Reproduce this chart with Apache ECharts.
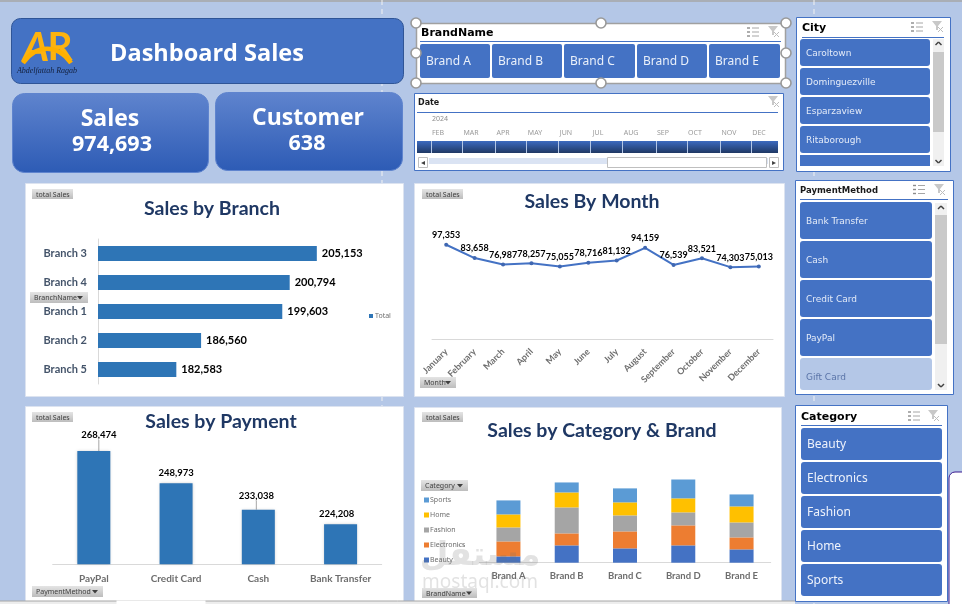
<!DOCTYPE html>
<html>
<head>
<meta charset="utf-8">
<style>html,body{margin:0;padding:0;background:#B4C7E7;overflow:hidden}#main{width:962px;height:604px}</style>
<script src="https://cdn.jsdelivr.net/npm/echarts@6/dist/echarts.min.js"></script>
</head>
<body>
<div id="main"></div>
<script>
// Sales figures
const branchNames = ['Branch 3', 'Branch 4', 'Branch 1', 'Branch 2', 'Branch 5'];
const branchTotals = [205153, 200794, 199603, 186560, 182583];

const monthNames = ['January', 'February', 'March', 'April', 'May', 'June', 'July', 'August', 'September', 'October', 'November', 'December'];
const monthTotals = [97353, 83658, 76987, 78257, 75055, 78716, 81132, 94159, 76539, 83521, 74303, 75013];

const paymentNames = ['PayPal', 'Credit Card', 'Cash', 'Bank Transfer'];
const paymentTotals = [268474, 248973, 233038, 224208];

const brandNames = ['Brand A', 'Brand B', 'Brand C', 'Brand D', 'Brand E'];
const beautySales = [16700, 45800, 37900, 45800, 35200];
const electronicsSales = [39600, 31700, 44900, 52900, 31700];
const fashionSales = [37000, 68700, 42300, 34400, 39600];
const homeSales = [34400, 39600, 34400, 37000, 42300];
const sportsSales = [37000, 26400, 37000, 50200, 31700];

const cityItems = ['Caroltown', 'Dominguezville', 'Esparzaview', 'Ritaborough', 'West Sarah'];
const paymentItems = ['Bank Transfer', 'Cash', 'Credit Card', 'PayPal', 'Gift Card'];
const categoryItems = ['Beauty', 'Electronics', 'Fashion', 'Home', 'Sports'];
const timelineMonths = ['FEB', 'MAR', 'APR', 'MAY', 'JUN', 'JUL', 'AUG', 'SEP', 'OCT', 'NOV', 'DEC'];

const kpiSales = '974,693';
const kpiCustomers = '638';

const BLUE = '#4472C4';
const LATO = 'Lato, "Open Sans", sans-serif';
const els = [];

function rect(x, y, w, h, fill, opts) {
  opts = opts || {};
  els.push({
    type: 'rect', silent: true, z: opts.z === undefined ? 1 : opts.z,
    shape: { x, y, width: w, height: h, r: opts.r || 0 },
    style: { fill, stroke: opts.stroke || null, lineWidth: opts.lw === undefined ? 1 : opts.lw, shadowBlur: opts.shadowBlur || 0, shadowColor: opts.shadowColor }
  });
}
function text(str, x, y, font, fill, opts) {
  opts = opts || {};
  els.push({
    type: 'text', silent: true, z: opts.z === undefined ? 5 : opts.z, x, y: y + 2,
    style: { text: str, font, fill, align: opts.align || 'left', verticalAlign: 'middle' }
  });
}
function line(x1, y1, x2, y2, stroke, lw, opts) {
  opts = opts || {};
  els.push({
    type: 'line', silent: true, z: opts.z === undefined ? 5 : opts.z,
    shape: { x1, y1, x2, y2 },
    style: { stroke, lineWidth: lw || 1, lineDash: opts.dash || null }
  });
}
function vGrad(a, b) {
  return { type: 'linear', x: 0, y: 0, x2: 0, y2: 1, colorStops: [{ offset: 0, color: a }, { offset: 1, color: b }] };
}

// Filter-pane header glyphs: multi-select list and clear-filter funnel
function multiSelectIcon(x, y) {
  for (let i = 0; i < 3; i++) {
    line(x, y - 4 + i * 4, x + 3, y - 4 + i * 4, '#8C8C8C', 1.4);
    line(x + 5, y - 4 + i * 4, x + 12, y - 4 + i * 4, '#A6A6A6', 1);
  }
}
function clearFilterIcon(x, y) {
  els.push({
    type: 'polygon', silent: true, z: 5,
    shape: { points: [[x, y - 5], [x + 10, y - 5], [x + 6, y], [x + 6, y + 4], [x + 4, y + 4], [x + 4, y]] },
    style: { fill: '#C8C8C8' }
  });
  line(x + 6, y + 1, x + 11, y + 6, '#BDBDBD', 1);
  line(x + 11, y + 1, x + 6, y + 6, '#BDBDBD', 1);
}
function scrollBar(x, y, w, h, thumbTop, thumbH) {
  rect(x, y, w, h, '#F0F0F0', { z: 3 });
  rect(x, thumbTop, w, thumbH, '#C9C9C9', { z: 4 });
  const cx = x + w / 2;
  line(cx - 3, y + 6, cx, y + 3, '#404040', 1.5);
  line(cx, y + 3, cx + 3, y + 6, '#404040', 1.5);
  line(cx - 3, y + h - 6, cx, y + h - 3, '#404040', 1.5);
  line(cx, y + h - 3, cx + 3, y + h - 6, '#404040', 1.5);
}
function pivotButton(label, x, y, w, h, arrow) {
  rect(x, y, w, h, vGrad('#E4E4E4', '#BDBDBD'), { z: 20 });
  text(label, x + 4, y + h / 2 - 1.5, '7px "Noto Sans", sans-serif', '#404040', { z: 21 });
  if (arrow) {
    els.push({
      type: 'polygon', silent: true, z: 21,
      shape: { points: [[x + w - 11, y + h / 2 - 1.5], [x + w - 5, y + h / 2 - 1.5], [x + w - 8, y + h / 2 + 2]] },
      style: { fill: '#404040' }
    });
  }
}

// Sheet chrome
line(0, 1, 962, 1, '#A6A6A6', 1.5, { z: 0 });
line(382, 0, 382, 604, '#F2F2F2', 1, { z: 0, dash: [5, 4] });
line(814, 0, 814, 604, '#F2F2F2', 1, { z: 0, dash: [5, 4] });

// Title banner with logo
rect(11.5, 18.5, 392, 65, BLUE, { r: 9, stroke: '#2F5597' });
text('Dashboard Sales', 207, 52, 'bold 23.5px "Open Sans", sans-serif', '#FFFFFF', { align: 'center' });
text('A', 36, 46, 'italic bold 41px ' + LATO, '#FDB30F', { align: 'center' });
text('R', 60, 45, 'bold 39px ' + LATO, '#FDB30F', { align: 'center' });
els.push({
  type: 'bezierCurve', silent: true, z: 6,
  shape: { x1: 23, y1: 63, cpx1: 36, cpy1: 44, x2: 71, y2: 63, cpx2: 58, cpy2: 44 },
  style: { stroke: '#FFB000', lineWidth: 4.5, fill: null }
});
text('Abdelfattah Ragab', 47, 69, 'italic 8px "Liberation Serif", serif', '#14213D', { align: 'center' });

// KPI cards
const cardFill = vGrad('#5F84CE', '#2D5BB5');
rect(12.5, 93.5, 196, 79, cardFill, { r: 12, stroke: '#5F84CE' });
rect(215.5, 92.5, 187, 78, cardFill, { r: 12, stroke: '#5F84CE' });
text('Sales', 110, 117, 'bold 23px "Open Sans", sans-serif', '#FFFFFF', { align: 'center' });
text(kpiSales, 112, 143, 'bold 21.5px "Open Sans", sans-serif', '#FFFFFF', { align: 'center' });
text('Customer', 308, 116, 'bold 23px "Open Sans", sans-serif', '#FFFFFF', { align: 'center' });
text(kpiCustomers, 307, 142, 'bold 21.5px "Open Sans", sans-serif', '#FFFFFF', { align: 'center' });

// Brand filter, shown selected with resize handles
rect(416.5, 23.5, 369, 60, '#FFFFFF', { stroke: '#A0A0A0', lw: 1.5 });
text('BrandName', 421, 31, 'bold 11px "DejaVu Sans", sans-serif', '#000000');
line(420, 41.5, 781, 41.5, BLUE, 1);
multiSelectIcon(747, 32);
clearFilterIcon(768, 31);
[[420, 70], [492, 70], [564, 71], [637, 70], [709, 71]].forEach(function (b, i) {
  rect(b[0], 44, b[1], 34, BLUE, { r: 2 });
  text(brandNames[i], b[0] + 6, 60, '12px "Noto Sans", sans-serif', '#EAF0FA');
});
[[416, 23], [601, 23], [786, 23], [416, 53], [786, 53], [416, 83], [601, 83], [786, 83]].forEach(function (p) {
  els.push({
    type: 'circle', silent: true, z: 8,
    shape: { cx: p[0], cy: p[1], r: 5 },
    style: { fill: '#FFFFFF', stroke: '#999999', lineWidth: 1.6 }
  });
});

// Date timeline
rect(414.5, 93.5, 369, 77, '#FFFFFF', { stroke: BLUE });
text('Date', 418, 101, 'bold 8px "DejaVu Sans", sans-serif', '#1A1A1A');
line(417, 112.5, 778, 112.5, BLUE, 1);
clearFilterIcon(768, 101);
text('2024', 432, 117, '7px "Noto Sans", sans-serif', '#8C8C8C');
const timelineX = [438, 471, 503, 535, 566, 598, 631, 663, 695, 729, 759];
timelineMonths.forEach(function (m, i) {
  text(m, timelineX[i], 131, '7px "Noto Sans", sans-serif', '#9A9A9A', { align: 'center' });
});
rect(417, 141, 361, 12, vGrad('#3C6ABF', '#1F3864'));
[431, 462, 495, 526, 558, 590, 622, 656, 687, 720, 751].forEach(function (x) {
  line(x + 0.5, 141, x + 0.5, 153, '#B4C7E7', 1);
});
rect(429, 158, 339, 6, '#DAE3F3');
rect(607.5, 157.5, 159, 10, '#FFFFFF', { stroke: '#BFBFBF', z: 3 });
rect(418.5, 157.5, 9, 10, '#FFFFFF', { stroke: '#BFBFBF', z: 3 });
rect(769.5, 157.5, 9, 10, '#FFFFFF', { stroke: '#BFBFBF', z: 3 });
text('◂', 423, 160.5, '8px "DejaVu Sans", sans-serif', '#404040', { align: 'center' });
text('▸', 774, 160.5, '8px "DejaVu Sans", sans-serif', '#404040', { align: 'center' });

// City filter
rect(796.5, 17.5, 154, 154, '#FFFFFF', { stroke: BLUE });
text('City', 802, 26, 'bold 11px "DejaVu Sans", sans-serif', '#000000');
line(802, 37.5, 944, 37.5, BLUE, 1);
multiSelectIcon(911, 27);
clearFilterIcon(932, 26);
cityItems.forEach(function (c, i) {
  const y = 39 + i * 29;
  const h = i === 4 ? 11 : 27;
  rect(800, y, 130, h, BLUE, { r: i === 4 ? 0 : 3 });
  if (i < 4) text(c, 806, y + 13, '9px "DejaVu Sans", sans-serif', '#E4EBF8');
});
scrollBar(933, 39, 11, 127, 52, 80);

// Payment method filter
rect(795.5, 180.5, 158, 214, '#FFFFFF', { stroke: BLUE });
text('PaymentMethod', 800, 188.5, 'bold 8.5px "DejaVu Sans", sans-serif', '#1A1A1A');
line(800, 199.5, 948, 199.5, BLUE, 1);
multiSelectIcon(913, 189.5);
clearFilterIcon(934, 189);
paymentItems.forEach(function (p, i) {
  const y = 202 + i * 39;
  const last = i === 4;
  rect(800, y, 132, last ? 32 : 37, last ? '#B4C7E7' : BLUE, { r: 3 });
  text(p, 806, y + 18, '9px "DejaVu Sans", sans-serif', last ? '#5A74A8' : '#E4EBF8');
});
scrollBar(935, 203, 12, 187, 215, 129);

// Category filter
rect(795.5, 405.5, 152, 196, '#FFFFFF', { stroke: BLUE });
text('Category', 801, 415, 'bold 11px "DejaVu Sans", sans-serif', '#000000');
line(801, 425.5, 942, 425.5, BLUE, 1);
multiSelectIcon(908, 416);
clearFilterIcon(928, 415);
categoryItems.forEach(function (c, i) {
  const y = 428 + i * 34;
  rect(801, y, 141, 32, BLUE, { r: 3 });
  text(c, 807, y + 15, '12px "Noto Sans", sans-serif', '#EEF2FB');
});

// Neighbouring shape clipped at the sheet's lower right corner
rect(949, 472, 30, 150, '#FFFFFF', { r: 6, stroke: '#3B1A8F', lw: 1 });

// Chart panels
rect(25.5, 183.5, 378, 213, '#FFFFFF', { stroke: '#DCE3F0', z: 0 });
rect(414.5, 183.5, 370, 213, '#FFFFFF', { stroke: '#DCE3F0', z: 0 });
rect(25.5, 406.5, 378, 198, '#FFFFFF', { stroke: '#DCE3F0', z: 0 });
rect(414.5, 407.5, 367, 197, '#FFFFFF', { stroke: '#DCE3F0', z: 0 });

// Sheet edge along the bottom
rect(0, 601, 795, 3, '#EDEDED', { z: 9 });
line(0, 601, 795, 601, '#A6A6A6', 1, { z: 9 });
rect(116.5, 600.5, 89, 4, '#FFFFFF', { z: 10 });

// Pivot field buttons
pivotButton('total Sales', 32, 189, 41, 10);
pivotButton('total Sales', 422, 189, 41, 10);
pivotButton('total Sales', 32, 412, 41, 10);
pivotButton('total Sales', 422, 412, 41, 10);
pivotButton('BranchName', 30, 292, 58, 11, true);
pivotButton('Month', 420, 377, 36, 11, true);
pivotButton('PaymentMethod', 32, 586, 71, 11, true);
pivotButton('BrandName', 422, 588, 55, 10, true);
pivotButton('Category', 421, 480, 47, 11, true);

// Site mark laid over the lower chart
text('مستقل', 480, 554, 'bold 33px "DejaVu Sans", sans-serif', 'rgba(110,110,110,0.2)', { align: 'center', z: 30 });
text('mostaql.com', 480, 581, '19px "Noto Sans", sans-serif', 'rgba(110,110,110,0.2)', { align: 'center', z: 30 });

function chartTitle(str, cx, cy) {
  return {
    text: str, left: cx, top: cy + 1, textAlign: 'center', textVerticalAlign: 'middle', padding: 0,
    textStyle: { fontFamily: LATO, fontWeight: 'bold', fontSize: 19.5, color: '#1F3864' }
  };
}
const axisGrey = { lineStyle: { color: '#D9D9D9', width: 1 } };
const valueLabel = { fontFamily: LATO, fontWeight: 'bold', color: '#000000' };

// Leader lines on the two labels pulled away from their bars
const paymentShift = [[5, -6], [0, 0], [-2, -4], [-4, 0]];
const paymentSeriesData = paymentTotals.map(function (v, i) {
  return { value: v, labelLine: { show: i === 0 || i === 2, lineStyle: { color: '#A6A6A6', width: 1 } } };
});

const stackSeries = [
  ['Beauty', beautySales, '#4472C4'],
  ['Electronics', electronicsSales, '#ED7D31'],
  ['Fashion', fashionSales, '#A5A5A5'],
  ['Home', homeSales, '#FFC000'],
  ['Sports', sportsSales, '#5B9BD5']
].map(function (s) {
  return {
    name: s[0], type: 'bar', stack: 'brand', xAxisIndex: 3, yAxisIndex: 3,
    data: s[1], barWidth: 24, itemStyle: { color: s[2] }
  };
});

const option = {
  animation: false,
  backgroundColor: '#B4C7E7',
  title: [
    chartTitle('Sales by Branch', 212, 208),
    chartTitle('Sales By Month', 592, 201),
    chartTitle('Sales by Payment', 221, 421),
    chartTitle('Sales by Category & Brand', 602, 430)
  ],
  legend: [
    {
      data: ['Total'], left: 364, top: 307.5, orient: 'vertical', itemWidth: 4, itemHeight: 4, icon: 'rect',
      textStyle: { fontSize: 7, color: '#6E6E6E', fontFamily: '"Noto Sans", sans-serif', padding: [0, 0, 0, -3] }
    },
    {
      data: ['Sports', 'Home', 'Fashion', 'Electronics', 'Beauty'],
      left: 419, top: 490, orient: 'vertical', itemWidth: 5, itemHeight: 5, itemGap: 5, icon: 'rect',
      textStyle: { fontSize: 7, lineHeight: 10, color: '#6E6E6E', fontFamily: '"Noto Sans", sans-serif', padding: [0, 0, 0, -4] }
    }
  ],
  grid: [
    { left: 98, top: 239, width: 249, height: 145 },
    { left: 432, top: 242.2, width: 341, height: 97 },
    { left: 52.7, top: 448.5, width: 329, height: 115.8 },
    { left: 479.3, top: 479.5, width: 291.4, height: 83.2 }
  ],
  xAxis: [
    { gridIndex: 0, type: 'value', min: 170000, max: 210000, show: false },
    {
      gridIndex: 1, type: 'category', data: monthNames,
      axisLine: axisGrey, axisTick: axisGrey,
      axisLabel: { rotate: 45, interval: 0, margin: 11, fontSize: 9, fontWeight: 'bold', fontFamily: LATO, color: '#6E6E6E' }
    },
    {
      gridIndex: 2, type: 'category', data: paymentNames,
      axisLine: axisGrey, axisTick: { show: false },
      axisLabel: { interval: 0, margin: 9, fontSize: 10, fontWeight: 'bold', fontFamily: LATO, color: '#6E6E6E' }
    },
    {
      gridIndex: 3, type: 'category', data: brandNames,
      axisLine: axisGrey, axisTick: axisGrey,
      axisLabel: { interval: 0, margin: 8, fontSize: 9.5, fontWeight: 'bold', fontFamily: LATO, color: '#6E6E6E' }
    }
  ],
  yAxis: [
    {
      gridIndex: 0, type: 'category', data: branchNames, inverse: true,
      axisLine: axisGrey, axisTick: axisGrey,
      axisLabel: { margin: 11, fontSize: 11, fontWeight: 'bold', fontFamily: LATO, color: '#44546A' }
    },
    { gridIndex: 1, type: 'value', min: 0, max: 100000, show: false },
    { gridIndex: 2, type: 'value', min: 200000, max: 270000, show: false },
    { gridIndex: 3, type: 'value', min: 0, max: 220000, show: false }
  ],
  series: [
    {
      name: 'Total', type: 'bar', xAxisIndex: 0, yAxisIndex: 0,
      data: branchTotals, barWidth: 15, itemStyle: { color: '#2E75B6' },
      label: Object.assign({ show: true, position: 'right', distance: 5, fontSize: 11, formatter: function (p) { return p.value.toLocaleString('en-US'); } }, valueLabel)
    },
    {
      name: 'Sales by month', type: 'line', xAxisIndex: 1, yAxisIndex: 1,
      data: monthTotals, symbol: 'circle', symbolSize: 4,
      lineStyle: { color: BLUE, width: 2 }, itemStyle: { color: '#3F67B1' },
      label: Object.assign({ show: true, position: 'top', distance: 3, fontSize: 9, formatter: function (p) { return p.value.toLocaleString('en-US'); } }, valueLabel)
    },
    {
      name: 'Sales by payment', type: 'bar', xAxisIndex: 2, yAxisIndex: 2,
      data: paymentSeriesData, barWidth: 33,
      itemStyle: { color: '#2E75B6', shadowBlur: 3, shadowColor: 'rgba(0,0,0,0.25)' },
      label: Object.assign({ show: true, position: 'top', distance: 5, fontSize: 9.5, formatter: function (p) { return p.value.toLocaleString('en-US'); } }, valueLabel),
      labelLayout: function (p) {
        const s = paymentShift[p.dataIndex];
        return { dx: s[0], dy: s[1] };
      }
    }
  ].concat(stackSeries),
  graphic: { elements: els }
};

const chart = echarts.init(document.getElementById('main'), null, { renderer: 'canvas', width: 962, height: 604 });
chart.setOption(option);
</script>
</body>
</html>
